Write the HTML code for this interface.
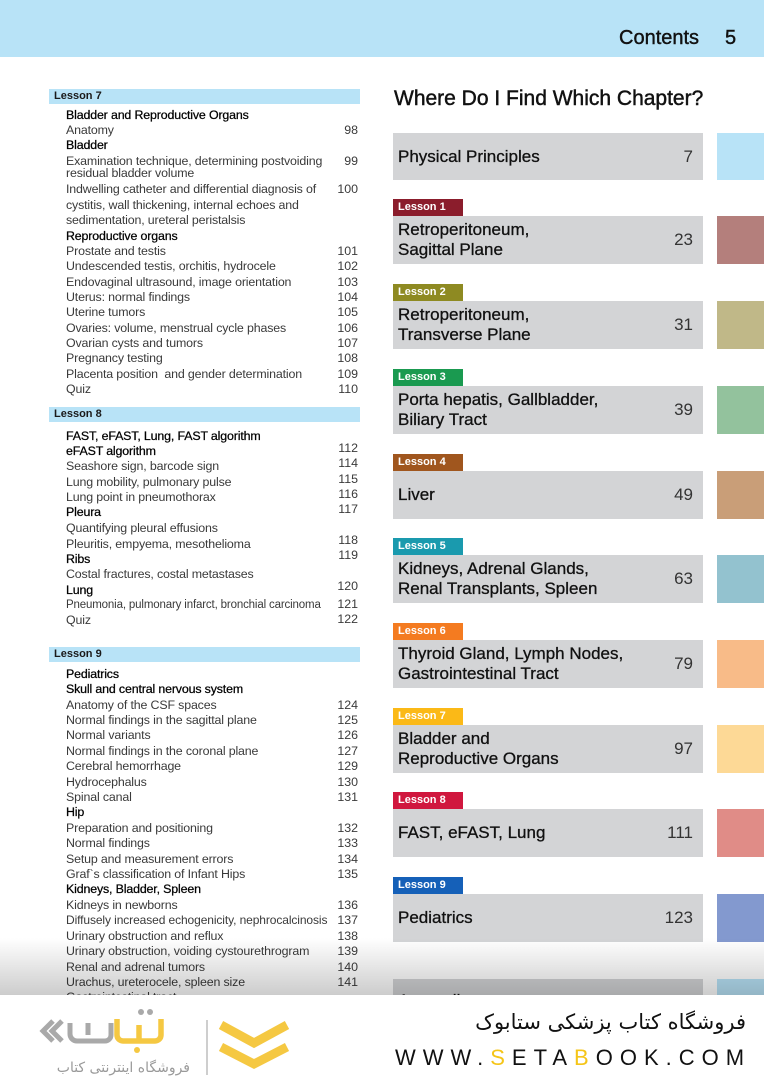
<!DOCTYPE html>
<html><head><meta charset="utf-8">
<style>
html,body{margin:0;padding:0;}
body{width:764px;height:1080px;overflow:hidden;position:relative;background:#fff;font-family:"Liberation Sans",Arial,sans-serif;}
.hdr{position:absolute;left:0;top:0;width:764px;height:57px;background:#b8e3f7;}
.t{position:absolute;left:66px;font-size:12.4px;letter-spacing:-0.15px;line-height:15px;color:#3a3a3a;white-space:nowrap;}
.h{color:#000;-webkit-text-stroke:0.25px #000;}
.p{position:absolute;left:300px;width:58px;text-align:right;font-size:12.4px;line-height:15px;color:#3a3a3a;}
.lb{position:absolute;left:49px;width:311px;height:15px;background:#b8e3f7;font-weight:bold;font-size:11px;line-height:15px;color:#1a1a1a;box-sizing:border-box;padding-left:5px;}
.box{position:absolute;left:393px;width:310px;height:48px;background:#d3d4d6;}
.sw{position:absolute;left:717px;width:47px;height:48px;}
.tab{position:absolute;left:393px;width:70px;height:17px;color:#fff;font-weight:bold;font-size:11px;line-height:17px;padding-left:5px;box-sizing:border-box;}
.bt{position:absolute;left:5px;top:50%;transform:translateY(-50%);font-size:17px;line-height:20px;color:#111;white-space:nowrap;-webkit-text-stroke:0.3px #111;}
.bn{position:absolute;right:10px;top:50%;transform:translateY(-50%);font-size:17px;line-height:20px;color:#333;}
</style></head><body>

<div class="hdr"></div>
<div style="position:absolute;left:619px;top:26px;font-size:20px;line-height:24px;color:#111;-webkit-text-stroke:0.4px #111;">Contents</div>
<div style="position:absolute;left:725px;top:26px;font-size:20px;line-height:24px;color:#111;-webkit-text-stroke:0.4px #111;">5</div>

<!-- LEFT COLUMN -->
<div class="lb" style="top:89px;">Lesson 7</div>
<div class="t h" style="top:108px;">Bladder and Reproductive Organs</div>
<div class="t" style="top:123px;">Anatomy</div><div class="p" style="top:123px;">98</div>
<div class="t h" style="top:138px;">Bladder</div>
<div class="t" style="top:154px;">Examination technique, determining postvoiding</div><div class="p" style="top:154px;">99</div>
<div class="t" style="top:166px;">residual bladder volume</div>
<div class="t" style="top:182px;">Indwelling catheter and differential diagnosis of</div><div class="p" style="top:182px;">100</div>
<div class="t" style="top:198px;">cystitis, wall thickening, internal echoes and</div>
<div class="t" style="top:213px;">sedimentation, ureteral peristalsis</div>
<div class="t h" style="top:229px;">Reproductive organs</div>
<div class="t" style="top:244px;">Prostate and testis</div><div class="p" style="top:244px;">101</div>
<div class="t" style="top:259px;">Undescended testis, orchitis, hydrocele</div><div class="p" style="top:259px;">102</div>
<div class="t" style="top:275px;">Endovaginal ultrasound, image orientation</div><div class="p" style="top:275px;">103</div>
<div class="t" style="top:290px;">Uterus: normal findings</div><div class="p" style="top:290px;">104</div>
<div class="t" style="top:305px;">Uterine tumors</div><div class="p" style="top:305px;">105</div>
<div class="t" style="top:321px;">Ovaries: volume, menstrual cycle phases</div><div class="p" style="top:321px;">106</div>
<div class="t" style="top:336px;">Ovarian cysts and tumors</div><div class="p" style="top:336px;">107</div>
<div class="t" style="top:351px;">Pregnancy testing</div><div class="p" style="top:351px;">108</div>
<div class="t" style="top:367px;">Placenta position&nbsp; and gender determination</div><div class="p" style="top:367px;">109</div>
<div class="t" style="top:382px;">Quiz</div><div class="p" style="top:382px;">110</div>

<div class="lb" style="top:407px;">Lesson 8</div>
<div class="t h" style="top:429px;">FAST, eFAST, Lung, FAST algorithm</div>
<div class="t h" style="top:444px;">eFAST algorithm</div><div class="p" style="top:441px;">112</div>
<div class="t" style="top:459px;">Seashore sign, barcode sign</div><div class="p" style="top:456px;">114</div>
<div class="t" style="top:475px;">Lung mobility, pulmonary pulse</div><div class="p" style="top:472px;">115</div>
<div class="t" style="top:490px;">Lung point in pneumothorax</div><div class="p" style="top:487px;">116</div>
<div class="t h" style="top:505px;">Pleura</div><div class="p" style="top:502px;">117</div>
<div class="t" style="top:521px;">Quantifying pleural effusions</div>
<div class="t" style="top:537px;">Pleuritis, empyema, mesothelioma</div><div class="p" style="top:533px;">118</div>
<div class="t h" style="top:552px;">Ribs</div><div class="p" style="top:548px;">119</div>
<div class="t" style="top:567px;">Costal fractures, costal metastases</div>
<div class="t h" style="top:583px;">Lung</div><div class="p" style="top:579px;">120</div>
<div class="t" style="top:598px;font-size:11.5px;letter-spacing:-0.15px;">Pneumonia, pulmonary infarct, bronchial carcinoma</div><div class="p" style="top:597px;">121</div>
<div class="t" style="top:613px;">Quiz</div><div class="p" style="top:612px;">122</div>

<div class="lb" style="top:647px;">Lesson 9</div>
<div class="t h" style="top:667px;">Pediatrics</div>
<div class="t h" style="top:682px;">Skull and central nervous system</div>
<div class="t" style="top:698px;">Anatomy of the CSF spaces</div><div class="p" style="top:698px;">124</div>
<div class="t" style="top:713px;">Normal findings in the sagittal plane</div><div class="p" style="top:713px;">125</div>
<div class="t" style="top:728px;">Normal variants</div><div class="p" style="top:728px;">126</div>
<div class="t" style="top:744px;">Normal findings in the coronal plane</div><div class="p" style="top:744px;">127</div>
<div class="t" style="top:759px;">Cerebral hemorrhage</div><div class="p" style="top:759px;">129</div>
<div class="t" style="top:775px;">Hydrocephalus</div><div class="p" style="top:775px;">130</div>
<div class="t" style="top:790px;">Spinal canal</div><div class="p" style="top:790px;">131</div>
<div class="t h" style="top:805px;">Hip</div>
<div class="t" style="top:821px;">Preparation and positioning</div><div class="p" style="top:821px;">132</div>
<div class="t" style="top:836px;">Normal findings</div><div class="p" style="top:836px;">133</div>
<div class="t" style="top:852px;">Setup and measurement errors</div><div class="p" style="top:852px;">134</div>
<div class="t" style="top:867px;">Graf`s classification of Infant Hips</div><div class="p" style="top:867px;">135</div>
<div class="t h" style="top:882px;">Kidneys, Bladder, Spleen</div>
<div class="t" style="top:898px;">Kidneys in newborns</div><div class="p" style="top:898px;">136</div>
<div class="t" style="top:913px;font-size:12px;letter-spacing:-0.1px;">Diffusely increased echogenicity, nephrocalcinosis</div><div class="p" style="top:913px;">137</div>
<div class="t" style="top:929px;">Urinary obstruction and reflux</div><div class="p" style="top:929px;">138</div>
<div class="t" style="top:944px;">Urinary obstruction, voiding cystourethrogram</div><div class="p" style="top:944px;">139</div>
<div class="t" style="top:960px;">Renal and adrenal tumors</div><div class="p" style="top:960px;">140</div>
<div class="t" style="top:975px;">Urachus, ureterocele, spleen size</div><div class="p" style="top:975px;">141</div>
<div class="t" style="top:990px;">Gastrointestinal tract</div>

<!-- RIGHT COLUMN -->
<div style="position:absolute;left:394px;top:86px;font-size:21px;line-height:26px;color:#111;white-space:nowrap;-webkit-text-stroke:0.45px #111;">Where Do I Find Which Chapter?</div>

<div class="box" style="top:133px;height:47px;"><div class="bt">Physical Principles</div><div class="bn">7</div></div>
<div class="sw" style="top:133px;height:47px;background:#b8e3f7;"></div>

<div class="tab" style="top:199px;background:#8b1d2c;">Lesson 1</div>
<div class="box" style="top:216px;"><div class="bt">Retroperitoneum,<br>Sagittal Plane</div><div class="bn">23</div></div>
<div class="sw" style="top:216px;background:#b47f7c;"></div>

<div class="tab" style="top:284px;background:#8e8a22;">Lesson 2</div>
<div class="box" style="top:301px;"><div class="bt">Retroperitoneum,<br>Transverse Plane</div><div class="bn">31</div></div>
<div class="sw" style="top:301px;background:#c0b888;"></div>

<div class="tab" style="top:369px;background:#1a9a50;">Lesson 3</div>
<div class="box" style="top:386px;"><div class="bt">Porta hepatis, Gallbladder,<br>Biliary Tract</div><div class="bn">39</div></div>
<div class="sw" style="top:386px;background:#93c29d;"></div>

<div class="tab" style="top:454px;background:#a0561e;">Lesson 4</div>
<div class="box" style="top:471px;"><div class="bt">Liver</div><div class="bn">49</div></div>
<div class="sw" style="top:471px;background:#c99e78;"></div>

<div class="tab" style="top:538px;background:#1a9aae;">Lesson 5</div>
<div class="box" style="top:555px;"><div class="bt">Kidneys, Adrenal Glands,<br>Renal Transplants, Spleen</div><div class="bn">63</div></div>
<div class="sw" style="top:555px;background:#93c2cf;"></div>

<div class="tab" style="top:623px;background:#f47b20;">Lesson 6</div>
<div class="box" style="top:640px;"><div class="bt">Thyroid Gland, Lymph Nodes,<br>Gastrointestinal Tract</div><div class="bn">79</div></div>
<div class="sw" style="top:640px;background:#f8bb88;"></div>

<div class="tab" style="top:708px;background:#fbb917;">Lesson 7</div>
<div class="box" style="top:725px;"><div class="bt">Bladder and<br>Reproductive Organs</div><div class="bn">97</div></div>
<div class="sw" style="top:725px;background:#fdd996;"></div>

<div class="tab" style="top:792px;background:#d0173e;">Lesson 8</div>
<div class="box" style="top:809px;"><div class="bt">FAST, eFAST, Lung</div><div class="bn">111</div></div>
<div class="sw" style="top:809px;background:#e08c87;"></div>

<div class="tab" style="top:877px;background:#1560b8;">Lesson 9</div>
<div class="box" style="top:894px;"><div class="bt">Pediatrics</div><div class="bn">123</div></div>
<div class="sw" style="top:894px;background:#8399cf;"></div>

<div class="box" style="top:979px;"><div class="bt" style="top:22px;">Appendix</div></div>
<div class="sw" style="top:979px;background:#b8e3f7;"></div>

<!-- bottom shade -->
<div style="position:absolute;left:0;top:938px;width:764px;height:57px;background:linear-gradient(to bottom,rgba(0,0,0,0),rgba(0,0,0,0.2));"></div>

<!-- watermark area -->
<div style="position:absolute;left:0;top:995px;width:764px;height:85px;background:#fff;"></div>
<svg style="position:absolute;left:0;top:995px;" width="764" height="85" viewBox="0 995 764 85">
  <g fill="none" stroke="#a9a9a9" stroke-width="5" stroke-linejoin="miter">
    <polyline points="53,1021 43,1031 53,1041"/>
    <polyline points="62,1021 52,1031 62,1041"/>
    <path d="M70 1023 v11 a7 7 0 0 0 7 7 h28 a6 6 0 0 0 6 -6 v-12"/>
    <path d="M88 1023 v12"/>
  </g>
  <circle cx="141" cy="1012" r="3" fill="#a9a9a9"/>
  <circle cx="150" cy="1012" r="3" fill="#a9a9a9"/>
  <g fill="none" stroke="#f5c842" stroke-width="5.5">
    <path d="M117 1019 v16 a6 6 0 0 0 6 6 h32 a6 6 0 0 0 6 -6 v-16"/>
    <path d="M139 1025 v15"/>
  </g>
  <circle cx="137" cy="1050" r="3" fill="#f5c842"/>
  <line x1="207" y1="1020" x2="207" y2="1075" stroke="#bdbdbd" stroke-width="1.5"/>
  <g fill="none" stroke="#f5c842" stroke-width="9" stroke-linejoin="miter">
    <polyline points="221,1025 254,1043 287,1025"/>
    <polyline points="221,1047 254,1064 287,1047"/>
  </g>
  <text x="190" y="1072" text-anchor="end" font-family="DejaVu Sans, sans-serif" font-size="14" fill="#9a9a9a">فروشگاه اینترنتی کتاب</text>
</svg>
<div style="position:absolute;left:460px;width:286px;top:1008px;text-align:right;direction:rtl;font-family:'DejaVu Sans',sans-serif;font-size:21px;line-height:28px;color:#111;">فروشگاه کتاب پزشکی ستابوک</div>
<div style="position:absolute;left:395px;top:1044px;font-size:22px;line-height:28px;letter-spacing:7px;color:#111;white-space:nowrap;">WWW.<span style="color:#f5c518;">S</span>ETA<span style="color:#f5c518;">B</span>OOK.COM</div>

</body></html>
